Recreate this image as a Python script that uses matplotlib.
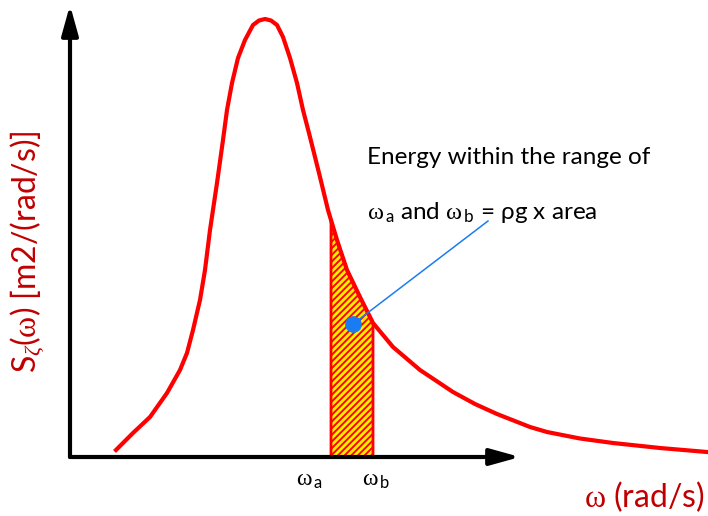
import matplotlib.pyplot as plt
import numpy as np

plt.rcParams['mathtext.fontset'] = 'custom'
plt.rcParams['mathtext.rm'] = 'Liberation Serif'
plt.rcParams['mathtext.it'] = 'Liberation Serif:italic'
plt.rcParams['mathtext.sf'] = 'Lato'
plt.rcParams['hatch.linewidth'] = 1.4

# wave spectrum curve (arbitrary units)
omega = [0.46, 0.63, 0.80, 0.97, 1.10, 1.17, 1.23, 1.30, 1.35, 1.40, 1.47, 1.53,
         1.57, 1.62, 1.68, 1.75, 1.83, 1.89, 1.95, 2.01, 2.07, 2.13, 2.20, 2.27,
         2.33, 2.40, 2.50, 2.58, 2.67, 2.77, 2.90, 3.03, 3.23, 3.50, 3.83, 4.05,
         4.27, 4.60, 4.77, 5.10, 5.43, 5.90, 6.37]
S = [0.07, 0.24, 0.40, 0.64, 0.87, 1.04, 1.27, 1.57, 1.87, 2.27, 2.74, 3.17,
     3.47, 3.74, 3.99, 4.17, 4.32, 4.365, 4.38, 4.365, 4.32, 4.20, 3.99, 3.74,
     3.47, 3.20, 2.80, 2.47, 2.17, 1.87, 1.60, 1.34, 1.10, 0.87, 0.65, 0.53,
     0.43, 0.30, 0.25, 0.185, 0.14, 0.09, 0.05]

omega_a = 2.61
omega_b = 3.03
dot = (2.83, 1.33)
dot_line_end = (4.18, 2.36)

red = '#FF0000'
dark_red = '#C00000'
blue = '#1A7CF2'

fig = plt.figure(figsize=(7.08, 5.16), dpi=100)
ax = fig.add_axes([0, 0, 1, 1])
ax.set_xlim(-0.70, 6.38)
ax.set_ylim(-0.59, 4.57)
ax.axis('off')

# shaded band between omega_a and omega_b
w = np.array(omega)
s = np.array(S)
inside = (w > omega_a) & (w < omega_b)
seg_w = np.concatenate([[omega_a], w[inside], [omega_b]])
seg_s = np.concatenate([[np.interp(omega_a, w, s)], s[inside], [np.interp(omega_b, w, s)]])
ax.fill_between(seg_w, 0, seg_s, facecolor='#FFF000', edgecolor=red,
                hatch='/////', lw=2, zorder=2)

ax.plot(omega, S, color=red, lw=3, solid_joinstyle='round', zorder=3)

# axes with arrow heads
arrow = dict(arrowstyle='-|>,head_length=1.8,head_width=0.5', lw=3,
             color='black', shrinkA=0, shrinkB=0, mutation_scale=10)
ax.annotate('', xy=(4.50, 0), xytext=(0, 0), arrowprops=arrow, zorder=4)
ax.annotate('', xy=(0, 4.52), xytext=(0, 0), arrowprops=arrow, zorder=4)

# pointer
ax.plot([dot[0], dot_line_end[0]], [dot[1], dot_line_end[1]], color=blue, lw=1.1, zorder=5)
ax.plot(*dot, 'o', color=blue, ms=11, zorder=6)

ax.text(2.97, 3.00, 'Energy within the range of', fontsize=17.5, family='Lato',
        va='center', ha='left')
ax.text(2.97, 2.45,
        r'$\mathrm{\omega}_{\,\mathsf{a}}$ and $\mathrm{\omega}_{\,\mathsf{b}}$ = ρg x area',
        fontsize=17.5, family=['Lato', 'DejaVu Sans'], va='center', ha='left')

ax.text(2.39, -0.22, r'$\mathrm{\omega}_{\,\mathsf{a}}$', fontsize=17, ha='center', va='center')
ax.text(3.06, -0.22, r'$\mathrm{\omega}_{\,\mathsf{b}}$', fontsize=17, ha='center', va='center')

ax.text(-0.42, 2.05, r'S$_{\zeta}$($\mathrm{\omega}$) [m2/(rad/s)]', rotation=90,
        fontsize=23, family='Lato', color=dark_red, ha='center', va='center')
ax.text(5.74, -0.40, r'$\mathrm{\omega}$ (rad/s)', fontsize=23, family='Lato',
        color=dark_red, ha='center', va='center')

fig.savefig('out.png', dpi=100)
